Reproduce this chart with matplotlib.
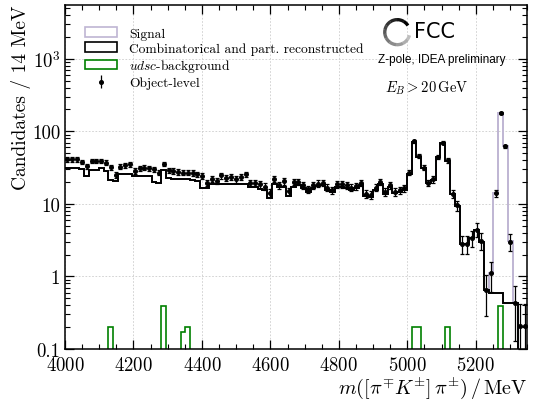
import numpy as np
import matplotlib

matplotlib.use("Agg")
import matplotlib.pyplot as plt
from matplotlib.patches import Arc, Patch
from matplotlib.ticker import FixedLocator, FuncFormatter, LogLocator, MultipleLocator, NullFormatter

plt.rcParams["font.family"] = "serif"
plt.rcParams["font.serif"] = ["cmr10", "DejaVu Serif"]
plt.rcParams["mathtext.fontset"] = "cm"
plt.rcParams["axes.formatter.use_mathtext"] = True

# 96 bins of ~14 MeV between 4000 and 5350 MeV
bin_edges = np.linspace(4000, 5350, 97)

# object-level candidates per bin
data_vals = [
    41, 41, 41, 38, 33, 39, 39, 39, 37, 32,
    25, 32.5, 34, 35, 28.5, 31, 31.5, 31, 30, 27,
    35.5, 29, 28.5, 27.5, 27, 27, 26.5, 25.5, 24, 19.6,
    22.2, 20.7, 24.6, 23, 23.8, 21.8, 23.8, 25.5, 19.6, 19.6,
    18.6, 17.3, 14.2, 22.2, 18, 20.5, 15, 20, 20, 18,
    15.9, 18, 19, 19.6, 16.7, 15.5, 18.6, 18.6, 18, 16.7,
    17.6, 19.6, 13.8, 13.3, 16.7, 20, 14.6, 18, 14.6, 15.5,
    16.3, 27, 73, 45.6, 31.5, 19.6, 21.8, 44.6, 70, 40,
    13.8, 9.5, 2.8, 2.8, 3.4, 4.4, 3.1, 0.66, 1.1, 14,
    177, 62, 3.0, 0.43, 0.21, 0.21,
]

# combinatorial + partially reconstructed background
comb_vals = [
    31, 31, 31, 30, 24, 29, 29, 31.5, 28.5, 21,
    20.5, 26, 25.5, 25.5, 24, 24.5, 24, 24.5, 19.8, 19.6,
    29, 22.5, 22.3, 22, 22, 21.8, 21.5, 20.5, 16.5, 16.3,
    19, 19, 19, 18.5, 19, 18.5, 19, 19, 17, 17,
    16, 15.5, 12.2, 19, 17, 17, 13, 17, 18, 16.5,
    14.5, 16.5, 17.5, 18, 15.5, 14.5, 17, 17, 16.5, 15.5,
    16.5, 18, 13, 12.5, 15.5, 18.5, 13.5, 17, 14, 14.5,
    15.5, 26, 72, 44, 31, 19.5, 21.5, 44, 68, 39,
    13.5, 9.3, 2.8, 2.8, 3.4, 4.4, 3.0, 0.66, 0.6, 0.6,
    0.6, 0.43, 0.43, 0.43, 0, 0,
]

# signal, stacked on top of the background (non-zero bins only)
signal_bins = [88, 89, 90, 91, 92]
signal_vals = [0.5, 13.4, 176, 61.5, 2.6]

# udsc background (non-zero bins only)
udsc_bins = [9, 20, 24, 25, 72, 73, 79, 90]
udsc_vals = [0.2, 0.39, 0.17, 0.2, 0.2, 0.2, 0.2, 0.39]

EVENT_WEIGHT = 0.21

data = np.array(data_vals, dtype=float)
comb = np.array(comb_vals, dtype=float)
signal = np.zeros(len(comb))
signal[signal_bins] = signal_vals
udsc = np.zeros(len(comb))
udsc[udsc_bins] = udsc_vals
centers = 0.5 * (bin_edges[1:] + bin_edges[:-1])
err = np.sqrt(data * EVENT_WEIGHT)

sig_color = "#bfb5d3"
fig = plt.figure(figsize=(5.33, 4.02), dpi=100)
ax = fig.add_axes([0.122, 0.1294, 0.867, 0.8557])

ax.stairs(comb + signal, bin_edges, color=sig_color, lw=1.4, baseline=None)
ax.stairs(comb, bin_edges, color="black", lw=1.4, baseline=None)
ax.stairs(udsc, bin_edges, color="green", lw=1.2, baseline=None)
ax.errorbar(centers, data, yerr=err, fmt="o", ms=2.6, color="black",
            elinewidth=0.9, capsize=1.6, capthick=0.9, zorder=5)

ax.set_yscale("log")
ax.set_xlim(4000, 5350)
ax.set_ylim(0.1, 5500)

ax.xaxis.set_major_locator(MultipleLocator(200))
ax.xaxis.set_minor_locator(MultipleLocator(50))
ax.yaxis.set_major_locator(FixedLocator([0.1, 1, 10, 100, 1000]))
ax.yaxis.set_minor_locator(LogLocator(base=10, subs=np.arange(2, 10)))
ax.yaxis.set_minor_formatter(NullFormatter())
ylabels = {0.1: "0.1", 1: "1", 10: "10", 100: "100", 1000: r"$10^3$"}
ax.yaxis.set_major_formatter(FuncFormatter(lambda v, pos: ylabels.get(round(v, 3), "")))

ax.tick_params(which="both", direction="in", top=True, right=True, labelsize=13.5)
ax.tick_params(which="major", length=6.5, width=0.9)
ax.tick_params(which="minor", length=3.5, width=0.8)
ax.tick_params(axis="x", which="major", pad=5)
for sp in ax.spines.values():
    sp.set_linewidth(1.1)
ax.grid(True, which="major", color="#cccccc", lw=0.6, linestyle=(0, (2, 2)))
ax.set_axisbelow(True)

ax.set_xlabel(r"$m([\pi^{\mp}K^{\pm}]\,\pi^{\pm})\,/\,\mathrm{MeV}$", fontsize=14.5,
              loc="right", labelpad=0)
ax.set_ylabel("Candidates / 14 MeV", fontsize=14, loc="top", labelpad=1)

handles = [
    Patch(facecolor="white", edgecolor=sig_color, lw=1.2),
    Patch(facecolor="white", edgecolor="black", lw=1.2),
    Patch(facecolor="white", edgecolor="green", lw=1.2),
    ax.errorbar([], [], yerr=[], fmt="o", ms=2.6, color="black", elinewidth=0.9,
                capsize=1.6, capthick=0.9),
]
labels = ["Signal", "Combinatorical and part. reconstructed",
          r"$udsc$-background", "Object-level"]
ax.legend(handles, labels, loc="upper left", bbox_to_anchor=(0.043, 0.935),
          frameon=False, fontsize=9.7, borderpad=0, borderaxespad=0,
          handlelength=2.4, handletextpad=0.9, labelspacing=0.18)

# FCC logo: open ring fading from black to grey
for i, g in enumerate(np.linspace(0.0, 0.75, 12)):
    ax.add_patch(Arc((0.719, 0.921), 25 / 462, 25 / 344, theta1=40 + i * 25,
                     theta2=40 + (i + 1) * 25 + 1, transform=ax.transAxes,
                     color=str(g), lw=2.4))
ax.text(0.755, 0.925, "FCC", transform=ax.transAxes, fontsize=15,
        family="DejaVu Sans", va="center", ha="left")
ax.text(0.677, 0.843, "Z-pole, IDEA preliminary", transform=ax.transAxes,
        fontsize=8.5, family="Liberation Sans", va="center", ha="left")
ax.text(0.693, 0.762, r"$E_B > 20\,\mathrm{GeV}$", transform=ax.transAxes,
        fontsize=10.5, va="center", ha="left")

fig.savefig("out.png", dpi=100)
